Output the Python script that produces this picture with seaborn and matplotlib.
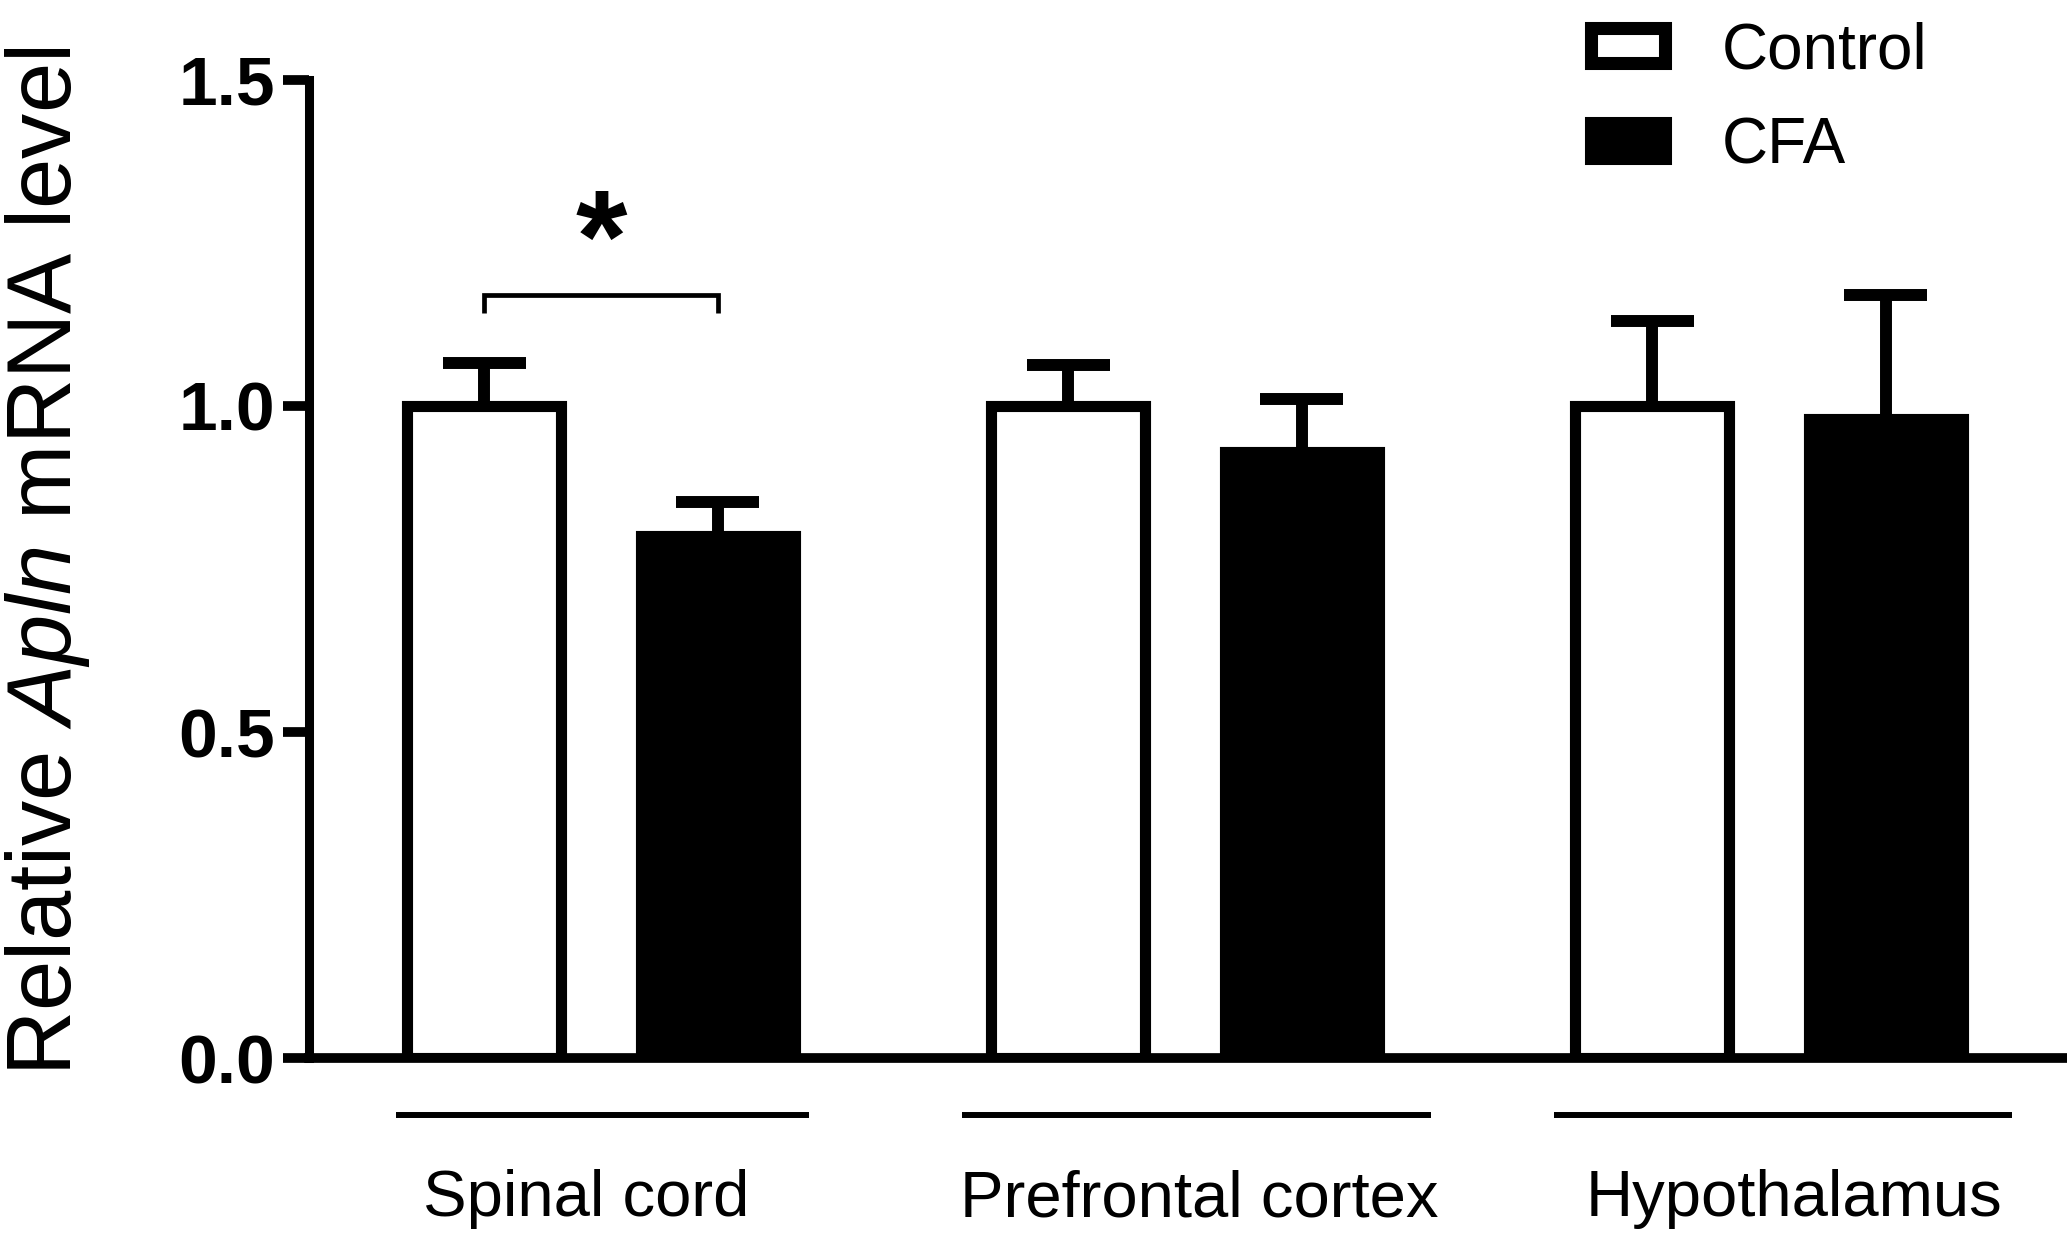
import pandas as pd
import matplotlib
matplotlib.use("Agg")
import matplotlib.pyplot as plt
import matplotlib.ticker as ticker
import matplotlib.transforms as mtransforms
from matplotlib.patches import Patch
import seaborn as sns

# Data
regions = ["Spinal cord", "Prefrontal cortex", "Hypothalamus"]
groups = ["Control", "CFA"]
control_mean = [1.00, 1.00, 1.00]
control_sem = [0.066, 0.063, 0.13]
cfa_mean = [0.80, 0.93, 0.98]
cfa_sem = [0.052, 0.08, 0.19]
y_ticks = [0.0, 0.5, 1.0, 1.5]
sig_label = "*"

sns.set_theme(style="white")
plt.rcParams["font.family"] = ["Liberation Sans", "DejaVu Sans"]
plt.rcParams["text.color"] = "black"
plt.rcParams["axes.labelcolor"] = "black"
plt.rcParams["mathtext.fontset"] = "custom"
plt.rcParams["mathtext.it"] = "Liberation Sans:italic"
plt.rcParams["mathtext.rm"] = "Liberation Sans"

df = pd.DataFrame({
    "region": regions * 2,
    "group": [groups[0]] * len(regions) + [groups[1]] * len(regions),
    "value": control_mean + cfa_mean,
})
sems = {groups[0]: control_sem, groups[1]: cfa_sem}
colors = {"Control": "white", "CFA": "black"}

fig = plt.figure(figsize=(20.67, 12.36), dpi=100)
ax = fig.add_axes([0.1495, 0.144, 0.8505, 0.7913])

sns.barplot(data=df, x="region", y="value", hue="group", order=regions,
            hue_order=groups, palette=colors, saturation=1, width=0.8,
            gap=0.34, edgecolor="black", linewidth=8, errorbar=None,
            legend=False, ax=ax)

# one-sided (upper) error bars
tops = {}
for grp, cont in zip(groups, ax.containers):
    for i, bar in enumerate(cont):
        xc = bar.get_x() + bar.get_width() / 2
        top = bar.get_height()
        s = sems[grp][i]
        tops[(grp, i)] = (xc, top + s)
        ax.vlines(xc, top, top + s, color="black", lw=8.6, zorder=3)
        ax.hlines(top + s, xc - 0.071, xc + 0.071, color="black", lw=8.6, zorder=3)

ax.set_xlim(-0.5, 2.51)
ax.set_ylim(0, 1.5)
ax.set_yticks(y_ticks)
ax.yaxis.set_major_formatter(ticker.FormatStrFormatter("%.1f"))
sns.despine(ax=ax)
ax.spines["left"].set_linewidth(6.5)
ax.spines["bottom"].set_linewidth(7)
ax.spines["left"].set_color("black")
ax.spines["bottom"].set_color("black")

ax.tick_params(axis="y", left=True, length=19, width=7, pad=5.5,
               labelsize=50, colors="black")
for lab in ax.get_yticklabels():
    lab.set_fontweight("bold")
ax.tick_params(axis="x", bottom=False, length=0, pad=80, labelsize=47,
               colors="black")
ax.set_xlabel("")
ax.set_ylabel(r"Relative $\mathit{Apln}$ mRNA level", fontsize=65, color="black")
ax.yaxis.set_label_coords(-0.1235, 0.508)

# lines above the region names
line_offsets = [(-0.351, 0.356), (-0.382, 0.421), (-0.368, 0.416)]
for i, (l, r) in enumerate(line_offsets):
    ax.plot([i + l, i + r], [-0.0875, -0.0875], color="black", lw=4.3,
            clip_on=False, solid_capstyle="butt")

# significance bracket for spinal cord
x0 = tops[(groups[0], 0)][0]
x1 = tops[(groups[1], 0)][0]
y_br = max(tops[(groups[0], 0)][1], tops[(groups[1], 0)][1]) + 0.104
ax.plot([x0, x0, x1, x1], [y_br - 0.027, y_br, y_br, y_br - 0.027],
        color="black", lw=3.4, solid_capstyle="butt", solid_joinstyle="miter")
ax.text((x0 + x1) / 2, y_br + 0.02, sig_label, ha="center", va="baseline",
        fontsize=95, fontweight="bold", color="black")

handles = [Patch(facecolor=colors[g], edgecolor="black", linewidth=9.4, label=g)
           for g in groups]
ax.legend(handles=handles, loc="upper left", bbox_to_anchor=(0.7697, 0.983),
          bbox_transform=fig.transFigure, frameon=False, fontsize=46,
          labelcolor="black", handlelength=1.16, handleheight=0.47,
          handletextpad=0.89, labelspacing=0.55, borderpad=0, borderaxespad=0)

# nudge region names to sit like the original (pixels)
label_shift = [-15, 14, 25]
for lab, dx in zip(ax.get_xticklabels(), label_shift):
    lab.set_transform(lab.get_transform()
                      + mtransforms.ScaledTranslation(dx / 100, 0, fig.dpi_scale_trans))

fig.savefig("out.png", dpi=100)
